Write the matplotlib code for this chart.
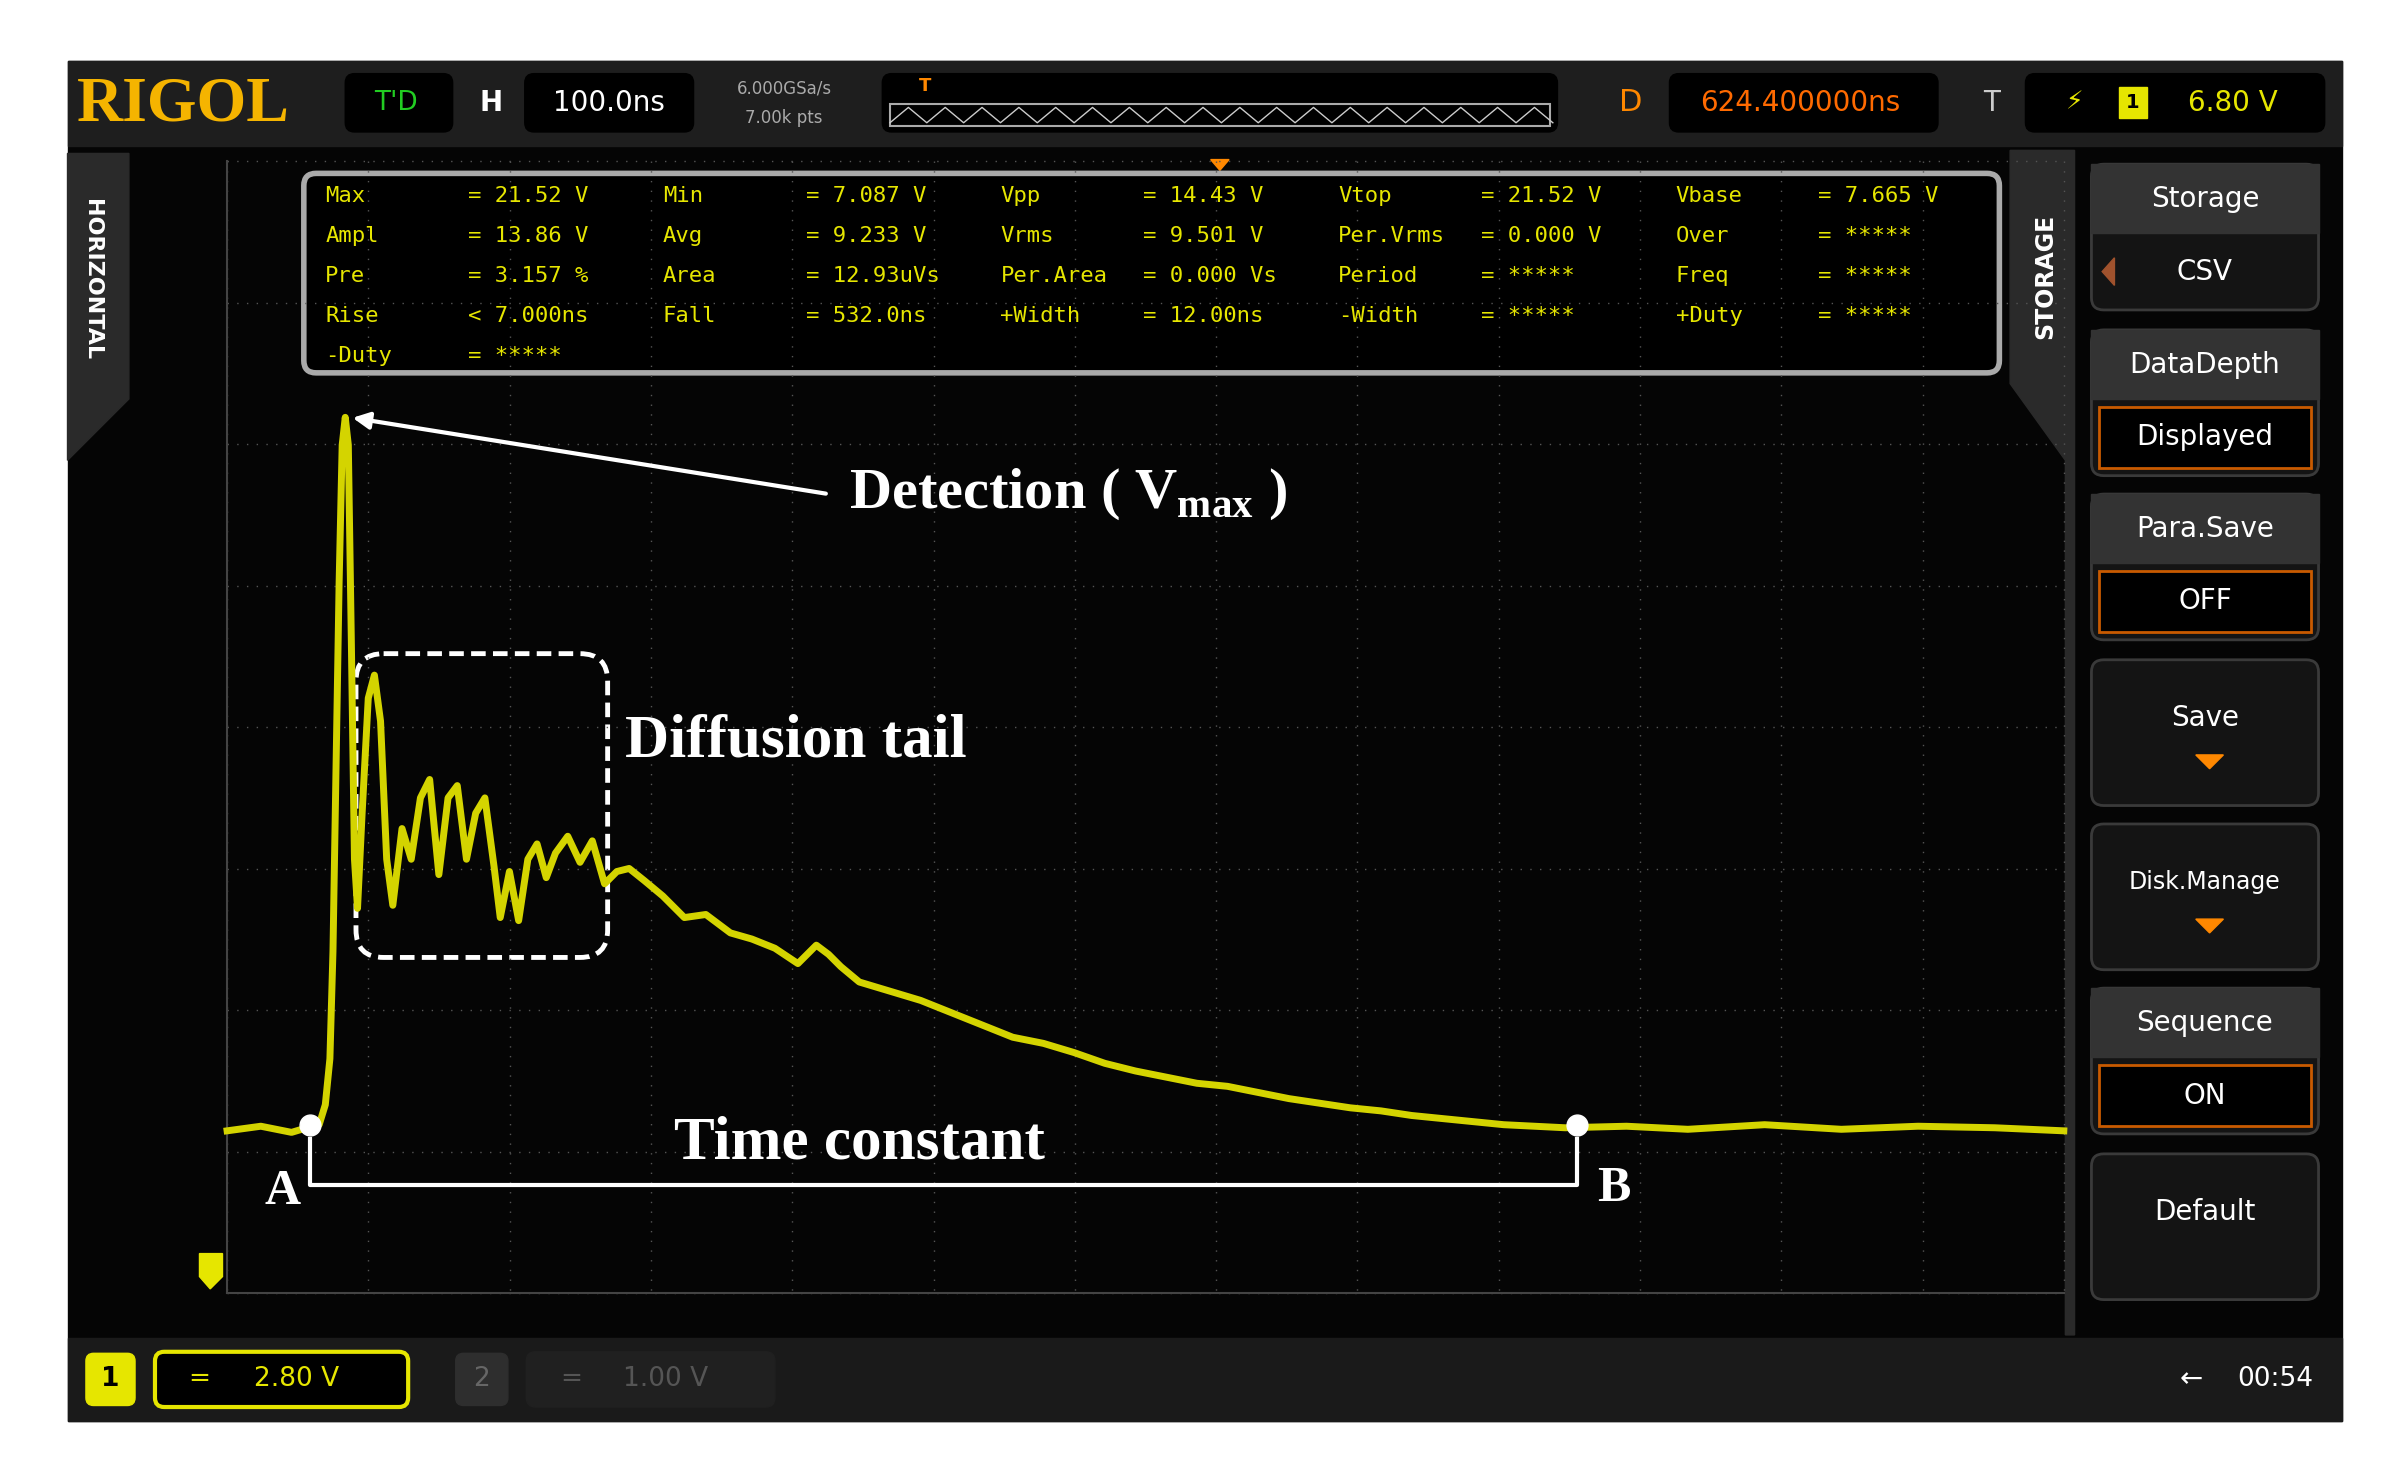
import matplotlib.pyplot as plt
from matplotlib.patches import Rectangle, FancyBboxPatch, Polygon

# trace (x px, y px in the 1568x960 picture frame)
trace_x = [148, 170, 190, 200, 208, 212, 215, 217, 219, 221, 223, 225, 227, 229, 231, 233, 236,
           240, 244, 248, 252, 256, 262, 268, 274, 280, 286, 292, 298, 304, 310, 316, 322, 326,
           332, 338, 344, 350, 356, 362, 370, 378, 386, 394, 402, 410, 420, 432, 446, 460, 476,
           490, 505, 520, 532, 540, 548, 560, 580, 600, 620, 640, 660, 680, 700, 720, 740, 760,
           780, 800, 820, 840, 860, 880, 900, 920, 940, 960, 980, 1000, 1020, 1060, 1100, 1150,
           1200, 1250, 1300, 1345]
trace_y = [737, 734, 738, 735, 733, 720, 690, 620, 500, 380, 290, 272, 290, 420, 560, 592, 530,
           455, 440, 470, 560, 590, 540, 560, 520, 508, 570, 520, 512, 560, 530, 520, 565, 598,
           568, 600, 560, 550, 572, 556, 545, 562, 548, 576, 568, 566, 574, 584, 598, 596, 608,
           612, 618, 628, 616, 622, 630, 640, 646, 652, 660, 668, 676, 680, 686, 693, 698, 702,
           706, 708, 712, 716, 719, 722, 724, 727, 729, 731, 733, 734, 735, 734, 736, 733,
           736, 734, 735, 737]

meas_rows = [
    ["Max", "= 21.52 V", "Min", "= 7.087 V", "Vpp", "= 14.43 V", "Vtop", "= 21.52 V", "Vbase", "= 7.665 V"],
    ["Ampl", "= 13.86 V", "Avg", "= 9.233 V", "Vrms", "= 9.501 V", "Per.Vrms", "= 0.000 V", "Over", "= *****"],
    ["Pre", "= 3.157 %", "Area", "= 12.93uVs", "Per.Area", "= 0.000 Vs", "Period", "= *****", "Freq", "= *****"],
    ["Rise", "< 7.000ns", "Fall", "= 532.0ns", "+Width", "= 12.00ns", "-Width", "= *****", "+Duty", "= *****"],
    ["-Duty", "= *****"],
]
menu_titles = ["Storage", "DataDepth", "Para.Save", "Save", "Disk.Manage", "Sequence", "Default"]
menu_values = ["CSV", "Displayed", "OFF", "", "", "ON", ""]

YEL = "#e6e600"
SERIF = "Liberation Serif"
fig = plt.figure(figsize=(24.06, 14.73), dpi=100)
ax = fig.add_axes([0, 0, 1, 1])
ax.set_xlim(0, 1568)
ax.set_ylim(960, 0)
ax.axis("off")

ax.add_patch(Rectangle((44, 40), 1482, 886, color="#050505"))
# top bar
ax.add_patch(Rectangle((44, 40), 1482, 55, color="#1e1e1e"))
ax.text(50, 69, "RIGOL", color="#f5b400", fontsize=46, fontweight="bold", family=SERIF, va="center")
for x0, w in [(225, 70), (342, 110), (575, 440), (1088, 175), (1320, 195)]:
    ax.add_patch(FancyBboxPatch((x0, 48), w, 38, boxstyle="round,pad=0,rounding_size=6", color="#000000"))
ax.text(258, 67, "T'D", color="#22cc22", fontsize=19, ha="center", va="center")
ax.text(320, 67, "H", color="white", fontsize=20, fontweight="bold", ha="center", va="center")
ax.text(397, 67, "100.0ns", color="white", fontsize=20, ha="center", va="center")
ax.text(511, 58, "6.000GSa/s", color="#aaaaaa", fontsize=12, ha="center", va="center")
ax.text(511, 77, "7.00k pts", color="#aaaaaa", fontsize=12, ha="center", va="center")
ax.add_patch(Rectangle((580, 68), 430, 14, fill=False, ec="#aaaaaa", lw=1.5))
zx = [580 + i * 12 for i in range(37)]
zy = [70 if i % 2 else 80 for i in range(37)]
ax.plot(zx, zy, color="#cccccc", lw=1)
ax.text(603, 56, "T", color="#ff8800", fontsize=13, ha="center", va="center", fontweight="bold")
ax.text(1063, 67, "D", color="#ff8800", fontsize=22, ha="center", va="center")
ax.text(1173, 67, "624.400000ns", color="#ff6a00", fontsize=20, ha="center", va="center")
ax.text(1298, 67, "T", color="#cccccc", fontsize=20, ha="center", va="center")
ax.text(1352, 67, "\u26a1", color=YEL, fontsize=18, ha="center", va="center", family="DejaVu Sans")
ax.add_patch(Rectangle((1381, 57), 18, 20, color=YEL))
ax.text(1390, 67, "1", color="black", fontsize=14, ha="center", va="center", fontweight="bold")
ax.text(1455, 67, "6.80 V", color=YEL, fontsize=20, ha="center", va="center")

# left panel
ax.add_patch(Polygon([(44, 100), (84, 100), (84, 260), (44, 300)], color="#2a2a2a"))
ax.text(60, 182, "HORIZONTAL", color="white", fontsize=16, fontweight="bold", rotation=-90, ha="center", va="center")

# grid
gx0, gx1, gy0, gy1 = 148, 1345, 105, 843
dx = (gx1 - gx0) / 13
dy = (gy1 - gy0) / 8
for i in range(14):
    ax.plot([gx0 + i * dx] * 2, [gy0, gy1], color="#555555", lw=1, ls=(0, (1, 6)))
for j in range(9):
    ax.plot([gx0, gx1], [gy0 + j * dy] * 2, color="#555555", lw=1, ls=(0, (1, 6)))
ax.plot([gx0, gx1], [gy1, gy1], color="#444444", lw=1.5)
ax.plot([gx0, gx0], [gy0, gy1], color="#444444", lw=1.5)
ax.add_patch(Polygon([(789, 104), (801, 104), (795, 111)], color="#ff8800"))
ax.add_patch(Polygon([(130, 817), (145, 817), (145, 832), (137, 840), (130, 832)], color=YEL))

# waveform
ax.plot(trace_x, trace_y, color="#d4d400", lw=5, solid_joinstyle="round")
ax.plot(trace_x[:20], trace_y[:20], color="#d4d400", lw=2)

# measurement panel
ax.add_patch(FancyBboxPatch((198, 113), 1105, 130, boxstyle="round,pad=0,rounding_size=8",
                            fc="black", ec="#aaaaaa", lw=4))
colx = [212, 305, 432, 525, 652, 745, 872, 965, 1092, 1185]
for r, row in enumerate(meas_rows):
    for c, s in enumerate(row):
        ax.text(colx[c], 128 + r * 26, s, color=YEL, fontsize=16, family="DejaVu Sans Mono", va="center")

# annotations
ax.annotate("", xy=(228, 272), xytext=(540, 322),
            arrowprops=dict(arrowstyle="-|>", color="white", lw=3, mutation_scale=25))
ax.text(553, 322, "Detection ( V$_{\\mathregular{max}}$ )", color="white", fontsize=42, fontweight="bold",
        family=SERIF, va="center")
ax.add_patch(FancyBboxPatch((232, 426), 164, 198, boxstyle="round,pad=0,rounding_size=18",
                            fill=False, ec="white", lw=3.5, ls=(0, (3, 1.5))))
ax.text(407, 483, "Diffusion tail", color="white", fontsize=44, fontweight="bold",
        family=SERIF, va="center")
ax.plot([202, 202, 1028, 1028], [742, 772, 772, 742], color="white", lw=3)
ax.plot([202, 1028], [733, 733], "o", color="white", ms=15)
ax.text(560, 745, "Time constant", color="white", fontsize=44, fontweight="bold",
        family=SERIF, ha="center", va="center")
ax.text(184, 777, "A", color="white", fontsize=36, fontweight="bold", family=SERIF, ha="center", va="center")
ax.text(1052, 775, "B", color="white", fontsize=36, fontweight="bold", family=SERIF, ha="center", va="center")

# right menu
ax.add_patch(Polygon([(1310, 98), (1352, 98), (1352, 870), (1346, 870), (1346, 300), (1310, 250)], color="#2a2a2a"))
ax.text(1333, 180, "STORAGE", color="white", fontsize=17, fontweight="bold", rotation=90, ha="center", va="center")
ys = [107, 215, 322, 430, 537, 644, 752]
for t, v, y in zip(menu_titles, menu_values, ys):
    ax.add_patch(FancyBboxPatch((1363, y), 148, 95, boxstyle="round,pad=0,rounding_size=8", fc="#141414", ec="#3a3a3a", lw=2))
    if v:
        ax.add_patch(Rectangle((1363, y), 148, 45, color="#333333"))
        ax.text(1437, y + 23, t, color="white", fontsize=20, ha="center", va="center")
        if t != "Storage":
            ax.add_patch(Rectangle((1368, y + 50), 138, 40, fc="black", ec="#c85a00", lw=2))
        ax.text(1437, y + 70, v, color="white", fontsize=20, ha="center", va="center")
    else:
        ax.text(1437, y + 38, t, color="white", fontsize=20 if t != "Disk.Manage" else 17, ha="center", va="center")
        if t != "Default":
            ax.add_patch(Polygon([(1431, y + 62), (1449, y + 62), (1440, y + 71)], color="#ff8800"))
ax.add_patch(Polygon([(1378, 168), (1378, 186), (1370, 177)], color="#a0522d"))

# bottom bar
ax.add_patch(Rectangle((44, 872), 1482, 54, color="#1a1a1a"))
ax.add_patch(FancyBboxPatch((56, 882), 32, 34, boxstyle="round,pad=0,rounding_size=5", color=YEL))
ax.text(72, 899, "1", color="black", fontsize=19, ha="center", va="center", fontweight="bold")
ax.add_patch(FancyBboxPatch((101, 881), 165, 36, boxstyle="round,pad=0,rounding_size=6", fc="black", ec=YEL, lw=3))
ax.text(130, 899, "=", color=YEL, fontsize=19, ha="center", va="center")
ax.text(193, 899, "2.80 V", color=YEL, fontsize=19, ha="center", va="center")
ax.add_patch(FancyBboxPatch((297, 882), 34, 34, boxstyle="round,pad=0,rounding_size=5", color="#2e2e2e"))
ax.text(314, 899, "2", color="#666666", fontsize=19, ha="center", va="center")
ax.add_patch(FancyBboxPatch((343, 881), 162, 36, boxstyle="round,pad=0,rounding_size=6", color="#202020"))
ax.text(372, 899, "=", color="#555555", fontsize=19, ha="center", va="center")
ax.text(434, 899, "1.00 V", color="#555555", fontsize=19, ha="center", va="center")
ax.text(1428, 899, "\u2190", color="white", fontsize=20, ha="center", va="center", family="DejaVu Sans")
ax.text(1483, 899, "00:54", color="white", fontsize=19, ha="center", va="center")

fig.savefig("out.png", dpi=100, facecolor="white")
